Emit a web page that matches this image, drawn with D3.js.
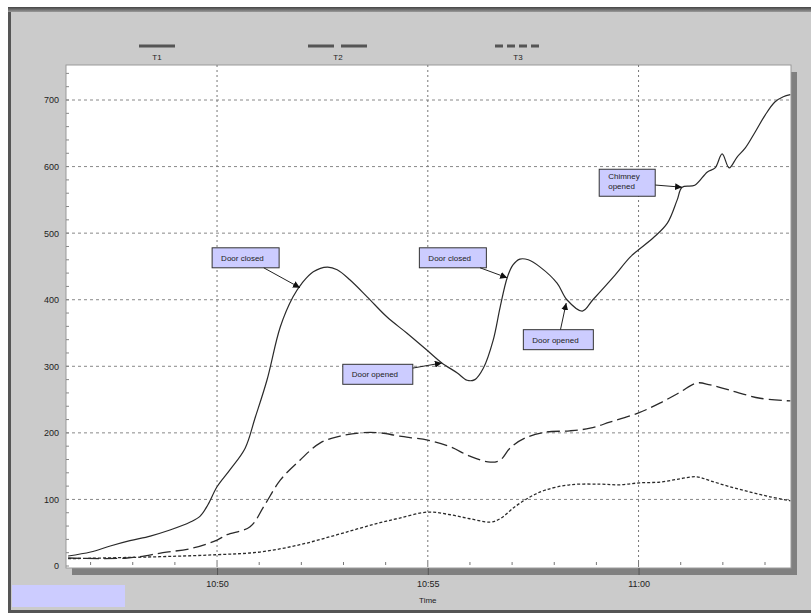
<!DOCTYPE html>
<html>
<head>
<meta charset="utf-8">
<script src="https://cdn.jsdelivr.net/npm/d3@7"></script>
<style>
  body { margin: 0; background: #fff; }
  svg { display: block; font-family: "Liberation Sans", Arial, sans-serif; }
</style>
</head>
<body>
<div id="chart"></div>
<script>
// readings, time of day / temperature
var t1Times = ["10:46:28","10:47:00","10:47:28","10:47:56","10:48:25","10:48:53","10:49:22","10:49:36","10:49:47","10:50:00",
    "10:50:18","10:50:40","10:50:54","10:51:11","10:51:30","10:51:48","10:52:01","10:52:17","10:52:37","10:52:51",
    "10:53:09","10:53:34","10:54:02","10:54:30","10:54:59","10:55:20","10:55:42","10:55:56","10:56:07","10:56:19",
    "10:56:33","10:56:43","10:56:53","10:57:01","10:57:11","10:57:23","10:57:40","10:58:04","10:58:18","10:58:40",
    "10:58:55","10:59:24","10:59:48","11:00:00","11:00:21","11:00:41","11:00:55","11:01:02","11:01:20","11:01:38",
    "11:01:49","11:01:59","11:02:09","11:02:20","11:02:32","11:02:46","11:03:00","11:03:14","11:03:26","11:03:36"];
var t1Values = [15, 21, 30, 38, 45, 54, 66, 75, 92, 119,
    144, 177, 222, 279, 359, 404, 425, 442, 449, 445,
    430, 404, 374, 350, 324, 305, 290, 279, 280, 297,
    339, 389, 433, 452, 461, 460, 449, 425, 400, 383,
    400, 434, 464, 475, 493, 515, 550, 569, 572, 592,
    598, 619, 598, 614, 628, 652, 677, 697, 705, 708];

var t2Times = ["10:46:28","10:47:52","10:48:43","10:49:26","10:50:00","10:50:14","10:50:47","10:51:08","10:51:30","10:51:58",
    "10:52:27","10:52:55","10:53:24","10:53:52","10:54:20","10:55:00","10:55:32","10:56:00","10:56:29","10:56:43",
    "10:56:57","10:57:18","10:57:47","10:58:22","10:58:51","10:59:19","11:00:00","11:00:31","11:00:59","11:01:23",
    "11:01:42","11:02:10","11:02:53","11:03:36"];
var t2Values = [12, 12, 20, 27, 39, 47, 59, 92, 129, 159,
    185, 195, 200, 200, 195, 189, 179, 165, 156, 159,
    177, 192, 201, 203, 207, 216, 230, 245, 261, 275,
    272, 264, 252, 248];

var t3Times = ["10:46:28","10:48:39","10:50:00","10:51:01","10:51:58","10:52:51","10:53:24","10:53:52","10:54:20","10:55:00",
    "10:55:32","10:56:00","10:56:29","10:56:43","10:57:04","10:57:26","10:57:47","10:58:22","10:59:05","10:59:34",
    "11:00:02","11:00:31","11:00:59","11:01:23","11:01:42","11:02:10","11:02:39","11:03:07","11:03:36"];
var t3Values = [11, 14, 17, 21, 32, 47, 57, 65, 72, 81,
    77, 71, 66, 71, 89, 104, 114, 122, 123, 122,
    125, 126, 131, 134, 128, 119, 111, 104, 98];

var seriesNames = ["T1", "T2", "T3"];
var yTicks = [0, 100, 200, 300, 400, 500, 600, 700];
var xTickLabels = ["10:50", "10:55", "11:00"];

// annotation: text, point on the curve, top-left corner of the box (time, value)
var noteTexts = [["Door closed"], ["Door opened"], ["Door closed"], ["Door opened"], ["Chimney", "opened"]];
var noteTargets = [["10:51:58", 418], ["10:55:20", 305], ["10:56:53", 433], ["10:58:17", 395], ["11:01:02", 569]];
var noteBoxes = [["10:49:53", 478], ["10:52:59", 303], ["10:54:48", 478], ["10:57:16", 355], ["10:59:04", 596]];

var width = 811, height = 613;
var margin = { top: 65, right: 20, bottom: 45, left: 66 };
var parse = d3.timeParse("%H:%M:%S");

var svg = d3.select("#chart").append("svg")
    .attr("width", width)
    .attr("height", height);

var defs = svg.append("defs");
var grad = defs.append("linearGradient").attr("id", "edgeTop").attr("x1", 0).attr("y1", 0).attr("x2", 0).attr("y2", 1);
grad.append("stop").attr("offset", "0%").attr("stop-color", "#444");
grad.append("stop").attr("offset", "100%").attr("stop-color", "#9a9a9a");
defs.append("marker")
    .attr("id", "arrow")
    .attr("viewBox", "0 0 10 10")
    .attr("refX", 10).attr("refY", 5)
    .attr("markerWidth", 7).attr("markerHeight", 7)
    .attr("markerUnits", "userSpaceOnUse")
    .attr("orient", "auto")
    .append("path").attr("d", "M0,0L10,5L0,10z").attr("fill", "#111");

// outer panel
svg.append("rect").attr("x", 8).attr("y", 7).attr("width", width - 8).attr("height", height - 7).attr("fill", "#555");
svg.append("rect").attr("x", 8).attr("y", 7).attr("width", width - 8).attr("height", 5).attr("fill", "url(#edgeTop)");
svg.append("rect").attr("x", 11).attr("y", 12).attr("width", width - 11).attr("height", height - 15).attr("fill", "#cbcbcb");
svg.append("rect").attr("x", 12).attr("y", 585).attr("width", 113).attr("height", 22).attr("fill", "#ccccff");

var x = d3.scaleTime()
    .domain([parse("10:46:25"), parse("11:03:37")])
    .range([margin.left, width - margin.right]);

var y = d3.scaleLinear()
    .domain([-3, 752.6])
    .range([height - margin.bottom, margin.top]);

var pw = width - margin.right - margin.left, ph = height - margin.bottom - margin.top;

// plot shadow + plot area
svg.append("rect").attr("x", margin.left + 6).attr("y", margin.top + 7).attr("width", pw).attr("height", ph).attr("fill", "#808080");
svg.append("rect").attr("x", margin.left).attr("y", margin.top).attr("width", pw).attr("height", ph)
    .attr("fill", "#fff").attr("stroke", "#9a9a9a").attr("stroke-width", 1);

// grid
svg.append("g")
    .selectAll("line")
    .data(yTicks.slice(1))
    .enter()
    .append("line")
    .attr("x1", margin.left).attr("x2", width - margin.right)
    .attr("y1", d => y(d)).attr("y2", d => y(d))
    .attr("stroke", "#888").attr("stroke-dasharray", "3,3");

svg.append("g")
    .selectAll("line")
    .data(xTickLabels)
    .enter()
    .append("line")
    .attr("x1", d => x(parse(d + ":00"))).attr("x2", d => x(parse(d + ":00")))
    .attr("y1", margin.top).attr("y2", height - margin.bottom)
    .attr("stroke", "#777").attr("stroke-dasharray", "2,3");

// minor ticks inside the plot
svg.append("g")
    .selectAll("line")
    .data(d3.range(0, 760, 20))
    .enter()
    .append("line")
    .attr("x1", margin.left).attr("x2", margin.left + 3)
    .attr("y1", d => y(d)).attr("y2", d => y(d))
    .attr("stroke", "#888");

svg.append("g")
    .selectAll("line")
    .data(x.ticks(d3.timeMinute.every(1)))
    .enter()
    .append("line")
    .attr("x1", d => x(d)).attr("x2", d => x(d))
    .attr("y1", height - margin.bottom - 6).attr("y2", height - margin.bottom - 3)
    .attr("stroke", "#777");

// axes
var xAxis = d3.axisBottom(x)
    .tickValues(xTickLabels.map(d => parse(d + ":00")))
    .tickFormat(d3.timeFormat("%H:%M"))
    .tickSize(7)
    .tickPadding(6);

var gx = svg.append("g")
    .attr("transform", `translate(0,${height - margin.bottom})`)
    .call(xAxis);
gx.select(".domain").remove();
gx.selectAll("line").attr("stroke", "#555");
gx.selectAll("text").attr("fill", "#222").style("font-size", "9px");

var yAxis = d3.axisLeft(y)
    .tickValues(yTicks)
    .tickSize(0)
    .tickPadding(7);

var gy = svg.append("g")
    .attr("transform", `translate(${margin.left},0)`)
    .call(yAxis);
gy.select(".domain").remove();
gy.selectAll("text").attr("fill", "#222").style("font-size", "9px");

svg.append("text")
    .attr("x", x(parse("10:55:00")))
    .attr("y", 603)
    .attr("text-anchor", "middle")
    .attr("fill", "#222")
    .style("font-size", "8px")
    .text("Time");

// curves
var series = [
    { times: t1Times, values: t1Values, dash: null },
    { times: t2Times, values: t2Values, dash: "13,5" },
    { times: t3Times, values: t3Values, dash: "3,2" }
];

var line = d3.line()
    .x(d => x(d[0]))
    .y(d => y(d[1]))
    .curve(d3.curveCatmullRom.alpha(0.5));

svg.append("g")
    .selectAll("path")
    .data(series)
    .enter()
    .append("path")
    .attr("d", s => line(s.times.map((t, i) => [parse(t), s.values[i]])))
    .attr("fill", "none")
    .attr("stroke", "#2a2a2a")
    .attr("stroke-width", (s, i) => i === 0 ? 1.2 : 1.3)
    .attr("stroke-dasharray", s => s.dash);

// legend
var legendX = [139, 308, 495];
var legendW = [36, 60, 46];
var legendDash = [null, "26,7", "8,4"];
var legend = svg.append("g")
    .selectAll("g")
    .data(seriesNames)
    .enter()
    .append("g");
legend.append("line")
    .attr("x1", (d, i) => legendX[i]).attr("x2", (d, i) => legendX[i] + legendW[i])
    .attr("y1", 46).attr("y2", 46)
    .attr("stroke", "#555").attr("stroke-width", 3)
    .attr("stroke-dasharray", (d, i) => legendDash[i]);
legend.append("text")
    .attr("x", (d, i) => legendX[i] + legendW[i] / 2)
    .attr("y", 60)
    .attr("text-anchor", "middle")
    .attr("fill", "#222")
    .style("font-size", "8px")
    .text(d => d);

// annotations
var notes = svg.append("g");
noteTexts.forEach(function (lines, i) {
    var bx = x(parse(noteBoxes[i][0])), by = y(noteBoxes[i][1]);
    var tx = x(parse(noteTargets[i][0])), ty = y(noteTargets[i][1]);
    var g = notes.append("g");
    var rect = g.append("rect")
        .attr("fill", "#ccccff").attr("stroke", "#333").attr("stroke-width", 1);
    var text = g.append("text")
        .attr("fill", "#222")
        .style("font-size", "8px");
    text.selectAll("tspan")
        .data(lines)
        .enter()
        .append("tspan")
        .attr("x", bx + 9)
        .attr("y", (d, j) => by + (lines.length > 1 ? 10 : 13) + j * 10)
        .text(d => d);
    var tw = d3.max(text.selectAll("tspan").nodes(), n => n.getComputedTextLength());
    var bw = Math.round(tw + 24), bh = lines.length > 1 ? 27 : 20;
    rect.attr("x", bx).attr("y", by).attr("width", bw).attr("height", bh);

    // arrow from box edge towards the curve point
    var cx = bx + bw / 2, cy = by + bh / 2;
    var dx = tx - cx, dy = ty - cy;
    var k = Math.min(Math.abs(bw / 2 / dx), Math.abs(bh / 2 / dy));
    notes.append("line")
        .attr("x1", cx + dx * k).attr("y1", cy + dy * k)
        .attr("x2", tx).attr("y2", ty)
        .attr("stroke", "#222").attr("stroke-width", 1)
        .attr("marker-end", "url(#arrow)");
});
</script>
</body>
</html>
